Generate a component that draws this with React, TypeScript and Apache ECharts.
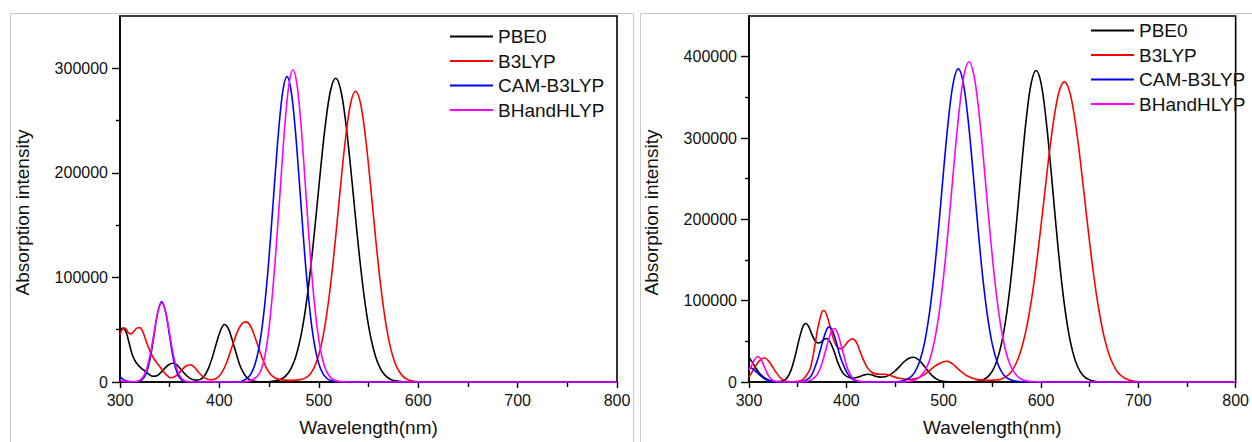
import React, { useEffect, useRef } from "react";
import * as echarts from "echarts";

const FONT = '"Liberation Sans", Arial, Helvetica, sans-serif';

const seriesNames = ["PBE0", "B3LYP", "CAM-B3LYP", "BHandHLYP"];
const seriesColors = ["#000000", "#ff0000", "#0000ff", "#ff00ff"];

const xTicksMin = 300;
const xTicksMax = 800;
const xInterval = 100;

const leftYMax = 350000;
const leftYLabels = [0, 100000, 200000, 300000];
const leftYMinor = [50000, 150000, 250000];
const rightYMax = 450000;
const rightYLabels = [0, 100000, 200000, 300000, 400000];
const rightYMinor = [50000, 150000, 250000, 350000];

// Left panel spectra [wavelength nm, intensity]
const pbe0Left = [
  [300, 50000], [303, 51500], [306, 48000], [309, 38000], [312, 27000], [315, 20500], [318, 16500], [321, 13500],
  [325, 10500], [329, 7500], [333, 5500], [337, 6000], [341, 9000], [345, 13000], [349, 16500], [353, 18000],
  [357, 16500], [361, 12500], [365, 8000], [369, 4500], [373, 2500], [377, 1800], [381, 2500], [385, 6000],
  [389, 13000], [393, 24000], [397, 37000], [401, 49000], [405, 55000], [409, 51000], [413, 40000], [417, 27000],
  [421, 15000], [425, 7500], [429, 3000], [433, 1200], [440, 300], [448, 300], [455, 1000], [462, 2700],
  [467, 6100], [472, 12800], [477, 24700], [482, 43900], [487, 72300], [492, 110700], [497, 156600], [502, 205400],
  [507, 249000], [512, 279500], [517, 290500], [522, 279500], [527, 249000], [532, 205400], [537, 156600], [542, 110700],
  [547, 72300], [552, 43900], [557, 24700], [562, 12800], [567, 6100], [572, 2700], [577, 1100], [585, 200],
  [600, 0], [700, 0], [800, 0],
];
const b3lypLeft = [
  [300, 45000], [302, 50000], [305, 51500], [308, 47500], [311, 46000], [314, 48500], [317, 51500], [320, 52000],
  [323, 48000], [326, 40000], [329, 32000], [332, 26000], [335, 21000], [339, 16000], [343, 11000], [347, 6500],
  [351, 4000], [355, 5000], [359, 8000], [363, 12500], [367, 15500], [371, 16500], [375, 14000], [379, 9500],
  [383, 5500], [387, 3000], [391, 2200], [395, 2500], [399, 5000], [403, 10000], [407, 18000], [411, 29000],
  [415, 40000], [419, 50000], [423, 56000], [427, 57500], [431, 54000], [435, 45000], [439, 34000], [443, 23000],
  [447, 14000], [451, 8000], [455, 4500], [460, 2500], [466, 1800], [472, 1600], [477, 1800], [482, 2500],
  [487, 4000], [492, 8400], [497, 17500], [502, 33400], [507, 58700], [512, 94200], [517, 139000], [522, 188500],
  [527, 233800], [532, 266300], [537, 278000], [542, 266300], [547, 233800], [552, 188500], [557, 139000], [562, 94200],
  [567, 58700], [572, 33400], [577, 17500], [582, 8400], [587, 3600], [592, 1500], [600, 300], [615, 0],
  [700, 0], [800, 0],
];
const camLeft = [
  [300, 5000], [304, 2000], [308, 600], [314, 200], [318, 700], [322, 2000], [326, 7500], [330, 20800],
  [334, 43100], [338, 66600], [342, 77000], [346, 66600], [350, 43100], [354, 20800], [358, 7500], [362, 2000],
  [366, 400], [375, 0], [420, 0], [424, 1500], [428, 3600], [432, 8300], [436, 17500], [440, 33900],
  [444, 60200], [448, 97500], [452, 144800], [456, 196800], [460, 245000], [464, 279400], [468, 292000], [472, 279400],
  [476, 245000], [480, 196800], [484, 144800], [488, 97500], [492, 60200], [496, 33900], [500, 17500], [504, 8300],
  [508, 3600], [512, 1500], [520, 300], [530, 0], [650, 0], [800, 0],
];
const bhhLeft = [
  [300, 1500], [304, 600], [310, 200], [318, 800], [322, 3300], [326, 10200], [330, 24500], [334, 45800],
  [338, 66600], [342, 75500], [346, 66600], [350, 45800], [354, 24500], [358, 10200], [362, 3300], [366, 800],
  [375, 0], [425, 0], [430, 1000], [434, 2600], [438, 5500], [442, 11500], [446, 26000], [450, 52000],
  [454, 91400], [458, 140000], [462, 195000], [466, 247200], [470, 284900], [474, 298600], [478, 284900], [482, 247200],
  [486, 195000], [490, 140000], [494, 91400], [498, 54300], [502, 29300], [506, 14300], [510, 6400], [514, 2600],
  [520, 600], [530, 0], [650, 0], [800, 0],
];

// Right panel spectra [wavelength nm, intensity]
const pbe0Right = [
  [300, 30000], [303, 25000], [306, 19000], [309, 13500], [312, 9000], [316, 5000], [320, 2500], [325, 1000],
  [330, 500], [335, 1500], [339, 5000], [343, 14000], [347, 30000], [351, 50000], [355, 67000], [358, 72000],
  [361, 69000], [364, 60000], [368, 50500], [371, 48000], [374, 49000], [377, 52500], [380, 53500], [383, 50000],
  [387, 39000], [391, 25000], [395, 14000], [399, 8000], [403, 5500], [408, 5000], [413, 6500], [418, 8500],
  [422, 9500], [426, 9000], [430, 7000], [435, 6000], [440, 6500], [445, 9000], [450, 13500], [455, 19500],
  [460, 25500], [465, 29500], [469, 30500], [473, 28500], [477, 24000], [481, 18000], [485, 12000], [489, 7000],
  [493, 3500], [497, 1500], [502, 600], [510, 100], [520, 0], [530, 400], [535, 1000], [540, 2600],
  [545, 6100], [550, 13400], [555, 27200], [560, 50600], [565, 86600], [570, 136300], [575, 197600], [580, 264300],
  [585, 324800], [590, 367700], [595, 383000], [600, 367700], [605, 324800], [610, 264300], [615, 197600], [620, 136300],
  [625, 86600], [630, 50600], [635, 27200], [640, 13400], [645, 6100], [650, 2600], [655, 1000], [665, 200],
  [680, 0], [800, 0],
];
const b3lypRight = [
  [300, 6000], [304, 14000], [308, 22000], [312, 27500], [316, 29500], [320, 26000], [324, 19000], [328, 11500],
  [332, 5500], [336, 2000], [340, 600], [345, 300], [350, 800], [355, 3000], [359, 8000], [363, 17000],
  [367, 40000], [371, 68000], [375, 86500], [377, 88000], [380, 82000], [384, 65000], [388, 49000], [392, 41500],
  [395, 41000], [398, 44000], [402, 50000], [406, 53000], [410, 49500], [414, 38000], [418, 26000], [422, 17000],
  [426, 12000], [430, 10000], [435, 9500], [440, 9500], [445, 8000], [450, 6000], [455, 4500], [460, 3500],
  [465, 3200], [470, 4000], [475, 5500], [480, 9000], [485, 13500], [490, 18500], [495, 22500], [500, 25000],
  [503, 25500], [507, 24000], [511, 20500], [515, 16000], [520, 11000], [525, 7000], [530, 4500], [535, 3000],
  [540, 2300], [545, 2000], [550, 2200], [554, 2500], [559, 3500], [564, 6500], [569, 11800], [574, 21800],
  [579, 37300], [584, 60100], [589, 91900], [594, 132800], [599, 181500], [604, 234300], [609, 286000], [614, 329500],
  [619, 358700], [624, 369000], [629, 358700], [634, 329500], [639, 286000], [644, 234300], [649, 181500], [654, 132800],
  [659, 91900], [664, 60100], [669, 37300], [674, 21800], [679, 11800], [684, 6300], [689, 3100], [694, 1400],
  [699, 600], [710, 100], [720, 0], [800, 0],
];
const camRight = [
  [300, 18000], [304, 16000], [308, 12000], [312, 7500], [316, 4000], [320, 1500], [325, 300], [332, 0],
  [350, 0], [354, 600], [358, 2000], [362, 5000], [365, 10000], [369, 22000], [373, 38000], [377, 55000],
  [380, 65000], [382, 67800], [385, 65000], [388, 56000], [391, 43000], [394, 30000], [398, 18000], [401, 11000],
  [404, 6000], [408, 2500], [413, 800], [420, 0], [450, 0], [455, 800], [460, 2100], [465, 5000],
  [470, 11600], [475, 24300], [480, 46200], [485, 81200], [490, 130500], [495, 192500], [500, 261000], [505, 323800],
  [510, 368800], [515, 385000], [520, 368800], [525, 323800], [530, 261000], [535, 192500], [540, 130500], [545, 81200],
  [550, 46200], [555, 24300], [560, 11600], [565, 5000], [570, 2100], [575, 800], [585, 100], [600, 0],
  [800, 0],
];
const bhhRight = [
  [300, 14500], [303, 21000], [306, 28000], [309, 31300], [312, 28500], [315, 21000], [318, 12500], [321, 6000],
  [324, 2500], [328, 700], [333, 0], [355, 0], [359, 600], [363, 2000], [367, 5000], [371, 11000],
  [375, 23000], [379, 40000], [383, 57000], [386, 65000], [388, 65500], [391, 60000], [394, 48000], [397, 35000],
  [400, 21000], [403, 11500], [406, 5500], [410, 2000], [415, 500], [422, 0], [460, 0], [466, 1100],
  [471, 2800], [476, 6700], [481, 14600], [486, 28700], [491, 53200], [496, 90600], [501, 142200], [506, 205200],
  [511, 272900], [516, 334300], [521, 378000], [526, 393800], [531, 378000], [536, 334300], [541, 272900], [546, 205200],
  [551, 142200], [556, 90600], [561, 53200], [566, 28700], [571, 14600], [576, 6700], [581, 2800], [586, 1100],
  [595, 200], [605, 0], [800, 0],
];

const leftData = [pbe0Left, b3lypLeft, camLeft, bhhLeft];
const rightData = [pbe0Right, b3lypRight, camRight, bhhRight];

const TEXT = "#111111";

function makeX(gridIndex: number) {
  return {
    type: "value",
    gridIndex,
    min: xTicksMin,
    max: xTicksMax,
    interval: xInterval,
    axisLine: { onZero: false, lineStyle: { color: "#000", width: 1.6 } },
    axisTick: { length: 6, lineStyle: { color: "#000", width: 1.4 } },
    minorTick: { show: true, splitNumber: 2, length: 5, lineStyle: { color: "#000", width: 1.4 } },
    splitLine: { show: false },
    minorSplitLine: { show: false },
    axisLabel: { margin: 10, fontSize: 16, color: TEXT, fontFamily: FONT },
    name: "Wavelength(nm)",
    nameLocation: "middle",
    nameGap: 36,
    nameTextStyle: { fontSize: 19, color: TEXT, fontFamily: FONT },
  };
}

function makeY(gridIndex: number, max: number, labels: number[]) {
  return {
    type: "value",
    gridIndex,
    position: "left",
    min: 0,
    max,
    axisLine: { show: true, onZero: false, lineStyle: { color: "#000", width: 1.6 } },
    axisTick: { show: true, customValues: labels, length: 8, lineStyle: { color: "#000", width: 1.4 } },
    axisLabel: {
      customValues: labels,
      margin: 12,
      fontSize: 16,
      color: TEXT,
      fontFamily: FONT,
      formatter: (v: number) => String(v),
    },
    splitLine: { show: false },
    name: "Absorption intensity",
    nameLocation: "middle",
    nameGap: 88,
    nameTextStyle: { fontSize: 19, color: TEXT, fontFamily: FONT, padding: [0, 27, 0, 0] },
  };
}

function makeYMinor(gridIndex: number, max: number, minor: number[]) {
  return {
    type: "value",
    gridIndex,
    position: "left",
    min: 0,
    max,
    axisLine: { show: false },
    axisTick: { show: true, customValues: minor, length: 4, lineStyle: { color: "#000", width: 1.4 } },
    axisLabel: { show: false },
    splitLine: { show: false },
  };
}

export default function App() {
  const ref = useRef<HTMLDivElement>(null);
  useEffect(() => {
    if (!ref.current) return;
    const chart = echarts.init(ref.current, null, { renderer: "svg" });
    const series: any[] = [];
    leftData.forEach((d, i) => {
      series.push({
        type: "line",
        name: seriesNames[i],
        xAxisIndex: 0,
        yAxisIndex: 0,
        data: d,
        symbol: "none",
        showSymbol: false,
        smooth: 0.35,
        lineStyle: { color: seriesColors[i], width: 1.6 },
        itemStyle: { color: seriesColors[i] },
        z: 3 + i,
      });
    });
    rightData.forEach((d, i) => {
      series.push({
        type: "line",
        name: seriesNames[i],
        xAxisIndex: 1,
        yAxisIndex: 2,
        data: d,
        symbol: "none",
        showSymbol: false,
        smooth: 0.35,
        lineStyle: { color: seriesColors[i], width: 1.6 },
        itemStyle: { color: seriesColors[i] },
        z: 3 + i,
      });
    });
    const legendCommon = {
      orient: "vertical",
      icon: "rect",
      itemWidth: 43,
      itemHeight: 2,
      itemGap: 5.5,
      selectedMode: false,
      textStyle: { fontSize: 19, color: TEXT, fontFamily: FONT, lineHeight: 19 },
      data: seriesNames,
    };
    chart.setOption({
      animation: false,
      backgroundColor: "#ffffff",
      graphic: [
        {
          type: "rect",
          shape: { x: 10.5, y: 13.5, width: 623, height: 440 },
          style: { fill: "none", stroke: "#c8c8c8", lineWidth: 1 },
          silent: true,
        },
        {
          type: "rect",
          shape: { x: 640.5, y: 13.5, width: 630, height: 440 },
          style: { fill: "none", stroke: "#c8c8c8", lineWidth: 1 },
          silent: true,
        },
      ],
      grid: [
        { left: 120, top: 16, width: 497, height: 369, show: true, borderColor: "#000", borderWidth: 1.6, backgroundColor: "transparent" },
        { left: 749, top: 16, width: 496, height: 369, show: true, borderColor: "#000", borderWidth: 1.6, backgroundColor: "transparent" },
      ],
      xAxis: [makeX(0), makeX(1)],
      yAxis: [
        makeY(0, leftYMax, leftYLabels),
        makeYMinor(0, leftYMax, leftYMinor),
        makeY(1, rightYMax, rightYLabels),
        makeYMinor(1, rightYMax, rightYMinor),
      ],
      legend: [
        { ...legendCommon, left: 445, top: 22 },
        { ...legendCommon, left: 1086, top: 16 },
      ],
      series,
    });
    return () => chart.dispose();
  }, []);
  return (
    <div
      ref={ref}
      style={{ position: "absolute", left: 0, top: 0, width: 1252, height: 442 }}
    />
  );
}
